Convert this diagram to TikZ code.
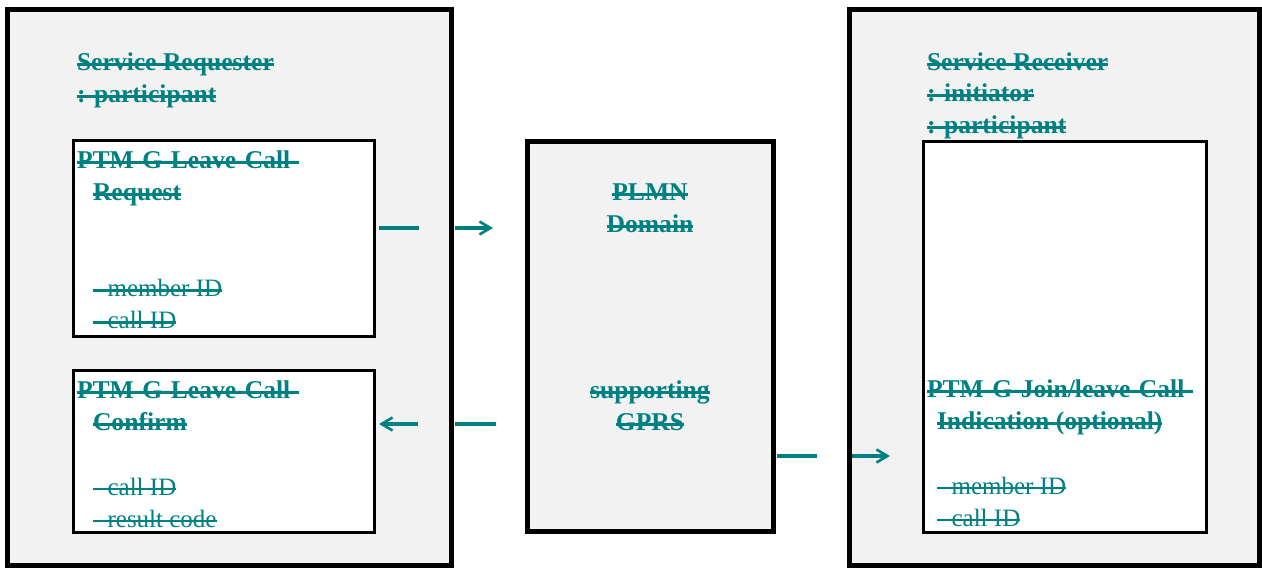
\documentclass[tikz,border=0pt]{standalone}
\usepackage{fontspec}
\setmainfont{Liberation Serif}
\usetikzlibrary{arrows.meta}
\definecolor{strike}{RGB}{0,128,128}
\definecolor{panel}{RGB}{242,242,242}
\newsavebox\strkbox
\newcommand\strk[1]{\sbox\strkbox{#1}\rlap{\rule[4.6pt]{\wd\strkbox}{2.9pt}}\usebox\strkbox}

\begin{document}
\begin{tikzpicture}[x=1pt,y=-1pt,
   every node/.style={inner sep=0pt,outer sep=0pt},
   sidebox/.style={draw,line width=5pt,fill=panel,anchor=north west},
   primbox/.style={draw,line width=3pt,fill=white,anchor=north west},
   headtext/.style={anchor=base west,text=strike,font=\bfseries\fontsize{25.6}{32}\selectfont},
   itemtext/.style={anchor=base west,text=strike,font=\fontsize{25}{32}\selectfont},
   msg/.style={draw=strike,line width=3.6pt},
   msgtip/.style={-{Straight Barb[length=11pt,width=13pt,line width=2.6pt]}}]
\useasboundingbox (0,0) rectangle (1262,569);
\node[sidebox,minimum width=443.5pt,minimum height=556pt] (requester) at (7.5,9.5) {};
\node[sidebox,minimum width=245.5pt,minimum height=389pt] (plmn) at (527.5,142) {};
\node[sidebox,minimum width=410pt,minimum height=556pt] (receiver) at (849.5,9.5) {};
\node[primbox,minimum width=301pt,minimum height=195.5pt] (request) at (73.5,141) {};
\node[primbox,minimum width=301pt,minimum height=161.5pt] (confirm) at (73,370.5) {};
\node[primbox,minimum width=283.5pt,minimum height=390.5pt] (indication) at (923,141.5) {};

\node[headtext] (requestername) at (77,70.5) {\strk{Service Requester}};
\node[headtext] (requesterrole) at (77,102.5) {\strk{: participant}};
\node[headtext] (requesttitle) at (77,168.5) {\strk{PTM-G-Leave-Call-}};
\node[headtext] (requesttype) at (93,200.5) {\strk{Request}};
\node[itemtext] (requestmember) at (93,297) {\strk{- member ID}};
\node[itemtext] (requestcall) at (93,329) {\strk{- call ID}};
\node[headtext] (confirmtitle) at (77,398.5) {\strk{PTM-G-Leave-Call-}};
\node[headtext] (confirmtype) at (93,430.5) {\strk{Confirm}};
\node[itemtext] (confirmcall) at (93,495) {\strk{- call ID}};
\node[itemtext] (confirmresult) at (93,527) {\strk{- result code}};

\node[headtext,anchor=base] (plmnname) at (650,201) {\strk{PLMN}};
\node[headtext,anchor=base] (plmnkind) at (650,233) {\strk{Domain}};
\node[headtext,anchor=base] (plmnsupport) at (650,398.5) {\strk{supporting}};
\node[headtext,anchor=base] (plmngprs) at (650,430.5) {\strk{GPRS}};

\node[headtext] (receivername) at (927,70.5) {\strk{Service Receiver}};
\node[headtext] (receiverinit) at (927,102) {\strk{: initiator}};
\node[headtext] (receiverrole) at (927,133.5) {\strk{: participant}};
\node[headtext] (indicationtitle) at (927,397.5) {\strk{PTM-G-Join/leave-Call-}};
\node[headtext] (indicationtype) at (937,429.5) {\strk{Indication (optional)}};
\node[itemtext] (indicationmember) at (937,494) {\strk{- member ID}};
\node[itemtext] (indicationcall) at (937,526) {\strk{- call ID}};

\coordinate (requestout) at (379,228);
\coordinate (requestgap) at (419,228);
\coordinate (plmngapin) at (455,228);
\coordinate (plmnin) at (493,228);
\coordinate (confirmin) at (379,424);
\coordinate (confirmgap) at (418,424);
\coordinate (plmngapout) at (455,424);
\coordinate (plmnout) at (496,424);
\coordinate (plmnsend) at (777,456);
\coordinate (plmnsendgap) at (817,456);
\coordinate (indicationgap) at (852,456);
\coordinate (indicationin) at (890,456);
\draw[msg] (requestout) -- (requestgap);
\draw[msg,msgtip] (plmngapin) -- (plmnin);
\draw[msg] (plmnout) -- (plmngapout);
\draw[msg,msgtip] (confirmgap) -- (confirmin);
\draw[msg] (plmnsend) -- (plmnsendgap);
\draw[msg,msgtip] (indicationgap) -- (indicationin);
\end{tikzpicture}
\end{document}
